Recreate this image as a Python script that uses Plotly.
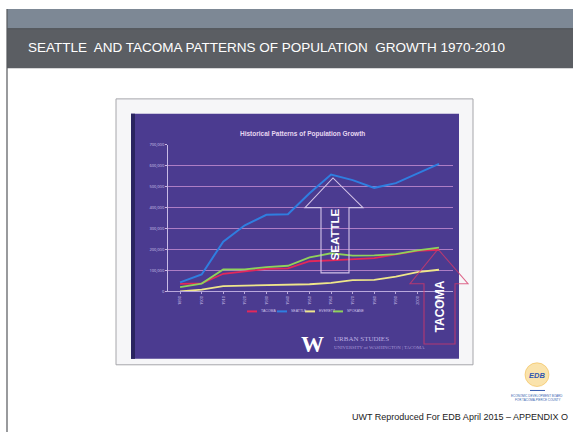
import plotly.graph_objects as go

# Census populations by decade
years = [1890, 1900, 1910, 1920, 1930, 1940, 1950, 1960, 1970, 1980, 1990, 2000, 2010]
tacoma = [36006, 37714, 83743, 96965, 106817, 109408, 143673, 147979, 154581, 158501, 176664, 193556, 198397]
seattle = [42837, 80671, 237194, 315312, 365583, 368302, 467591, 557087, 530831, 493846, 516259, 563374, 608660]
everett = [0, 7838, 24814, 27644, 30567, 30224, 33849, 40304, 53622, 54413, 69961, 91488, 103019]
spokane = [19922, 36848, 104402, 104437, 115514, 122001, 161721, 181608, 170516, 171300, 177196, 195629, 208916]

series_names = ["TACOMA", "SEATTLE", "EVERETT", "SPOKANE"]
series_values = [tacoma, seattle, everett, spokane]
series_colors = ["#e3285a", "#2f7ee0", "#efe68a", "#8fd25a"]
y_ticks = [0, 100000, 200000, 300000, 400000, 500000, 600000, 700000]

W, H = 573, 434


def px(x):
    return x / W


def py(y):
    return 1 - y / H


fig = go.Figure()

for name, vals, col in zip(series_names, series_values, series_colors):
    fig.add_trace(go.Scatter(x=years, y=vals, mode="lines", name=name,
                             line=dict(color=col, width=2.0 if name == "SEATTLE" else 1.8),
                             showlegend=False, hoverinfo="skip"))

shapes = []


def rect(x0, y0, x1, y1, fill=None, line=None, lw=0, layer="below"):
    shapes.append(dict(type="rect", xref="paper", yref="paper",
                       x0=px(x0), x1=px(x1), y0=py(y1), y1=py(y0),
                       fillcolor=fill if fill else "rgba(0,0,0,0)",
                       line=dict(color=line if line else "rgba(0,0,0,0)", width=lw),
                       layer=layer))


def path(points, color, lw, closed=False, layer="above", dash="solid"):
    d = "M " + " L ".join(f"{px(x):.5f},{py(y):.5f}" for x, y in points)
    if closed:
        d += " Z"
    shapes.append(dict(type="path", xref="paper", yref="paper", path=d,
                       line=dict(color=color, width=lw, dash=dash), layer=layer))


# Slide banner
rect(7, 6, 573, 26, fill="#7d8895")
rect(7, 26, 573, 66, fill="#5b5e63")
shapes.append(dict(type="line", xref="paper", yref="paper", x0=px(7), x1=px(573),
                   y0=py(26), y1=py(26), line=dict(color="#4a4d52", width=1), layer="below"))
# Slide left border
shapes.append(dict(type="line", xref="paper", yref="paper", x0=px(7), x1=px(7),
                   y0=py(6), y1=py(434), line=dict(color="#55585c", width=1.2), layer="below"))

# Photo frame and purple chart panel
rect(116, 97, 473, 366, fill="#f6f6f8", line="#a6a6aa", lw=1)
rect(131, 112, 459, 360, fill="#4b3b90")
rect(131, 112, 135, 360, fill="#2a2460")

# Seattle arrow outline
path([(321, 273), (321, 207), (305, 207), (333, 177), (363, 207), (349, 207), (349, 273)],
     "#d4c4e8", 1.1, closed=True)

# Tacoma arrow outline
path([(424, 345), (424, 284), (410, 284), (438, 249), (468, 284), (455, 284), (455, 345)],
     "rgba(214,56,104,0.75)", 1.1, closed=True)

# Legend swatches
leg_x = [247, 277, 305, 333]
for lx, col in zip(leg_x, series_colors):
    shapes.append(dict(type="line", xref="paper", yref="paper", x0=px(lx), x1=px(lx + 10),
                       y0=py(312), y1=py(312), line=dict(color=col, width=2)))

# EDB logo mark
shapes.append(dict(type="circle", xref="paper", yref="paper", x0=px(525), x1=px(549),
                   y0=py(388), y1=py(364), fillcolor="rgba(246,200,90,0.5)",
                   line=dict(color="rgba(240,180,60,0.5)", width=1), layer="below"))
shapes.append(dict(type="line", xref="paper", yref="paper", x0=px(530), x1=px(545),
                   y0=py(392), y1=py(392), line=dict(color="#3a5fb0", width=1)))

annotations = []


def text(x, y, s, size, color, family="Liberation Sans", angle=0, xanchor="center", weight=None):
    f = dict(size=size, color=color, family=family)
    if weight:
        f["weight"] = weight
    annotations.append(dict(x=px(x), y=py(y), xref="paper", yref="paper", text=s,
                            showarrow=False, textangle=angle, xanchor=xanchor, yanchor="middle",
                            font=f))


text(266, 45, "SEATTLE&nbsp; AND TACOMA PATTERNS OF POPULATION&nbsp; GROWTH 1970-2010",
     13.5, "#ffffff", family="Liberation Sans")
text(303, 133, "<b>Historical Patterns of Population Growth</b>", 6.5, "#e6d6f0")
text(335, 234, "<b>SEATTLE</b>", 11.5, "#ffffff", angle=-90)
text(440, 307, "<b>TACOMA</b>", 12, "#ffffff", angle=-90)

for lx, nm in zip(leg_x, series_names):
    text(lx + 12, 312, nm, 3.5, "#cfc4ea", xanchor="left")

text(312, 345, "<b>W</b>", 23, "#ffffff", family="Liberation Serif")
text(332, 340, "URBAN STUDIES", 7, "#bcb0e2", family="Liberation Serif", xanchor="left")
text(332, 349, "UNIVERSITY of WASHINGTON | TACOMA", 4.8, "#a898d6",
     family="Liberation Serif", xanchor="left")

text(537, 377, "<i><b>EDB</b></i>", 7.5, "#2f56b0", family="Liberation Sans")
text(537, 398, "ECONOMIC DEVELOPMENT BOARD", 3, "#3a5fb0")
text(537, 402, "FOR TACOMA-PIERCE COUNTY", 3, "#3a5fb0")

text(460, 419, "UWT Reproduced For EDB April 2015 – APPENDIX O", 9, "#222222",
     family="Liberation Sans")

fig.update_layout(
    width=W, height=H, autosize=False,
    margin=dict(l=0, r=0, t=0, b=0),
    paper_bgcolor="#ffffff", plot_bgcolor="rgba(0,0,0,0)",
    shapes=shapes, annotations=annotations, showlegend=False,
    xaxis=dict(domain=[px(168), px(453)], range=[1884.4, 2016.5],
               tickmode="array", tickvals=years, ticktext=[str(y) for y in years],
               tickangle=-90, tickfont=dict(size=4, color="#cfc4ea"),
               showgrid=False, zeroline=False, showline=True, linecolor="#b9a8dc",
               linewidth=1, ticks="outside", ticklen=2, tickcolor="#b9a8dc",
               fixedrange=True),
    yaxis=dict(domain=[py(291.7), py(143.3)], range=[0, 700000],
               tickmode="array", tickvals=y_ticks,
               ticktext=[f"{v:,}" for v in y_ticks],
               tickfont=dict(size=4, color="#cfc4ea"),
               showgrid=True, gridcolor="rgba(205,150,215,0.75)", gridwidth=1,
               zeroline=False, showline=True, linecolor="#c9bbe6", linewidth=1,
               ticks="outside", ticklen=2, tickcolor="#c9bbe6", fixedrange=True),
)

fig.write_html("out.html")
